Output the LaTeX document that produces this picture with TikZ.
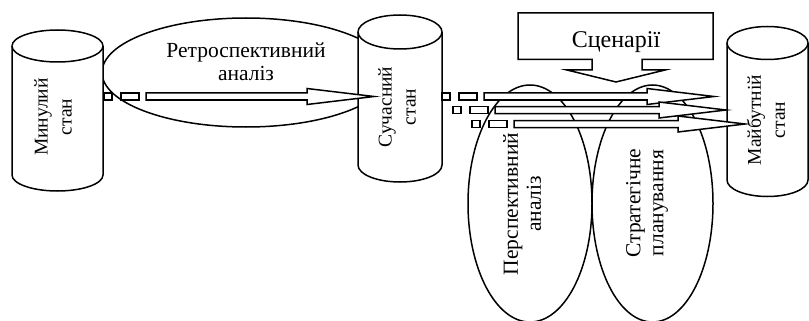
\documentclass[tikz,border=0pt]{standalone}
\usepackage{fontspec}
\setmainfont{Liberation Serif}
\usetikzlibrary{calc}

% cylinder: left x, right x, centre y of top ellipse, centre y of bottom ellipse, vertical radius
\newcommand\drawdrum[5]{%
  \pgfmathsetmacro\drumrx{(#2-#1)/2}%
  \draw[line] (#1,#3) -- (#1,#4)
    arc[start angle=180, end angle=0, x radius=\drumrx, y radius=#5]
    -- (#2,#3)
    arc[start angle=0, end angle=-180, x radius=\drumrx, y radius=#5] -- cycle;
  \draw[line] (#1,#3) arc[start angle=180, end angle=0, x radius=\drumrx, y radius=#5];}

% hollow block arrow with a broken tail: tail coordinate, tip coordinate
\newcommand\brokenarrow[2]{%
  \draw[line] ($(#1)+(0,-3.5)$) rectangle ($(#1)+(8,3.5)$);
  \draw[line] ($(#1)+(17,-3.5)$) rectangle ($(#1)+(35,3.5)$);
  \draw[line] ($(#1)+(42,-3.5)$) -- ($(#2)+(-67,-3.5)$) -- ($(#2)+(-67,-8)$)
    -- (#2) -- ($(#2)+(-67,8)$) -- ($(#2)+(-67,3.5)$) -- ($(#1)+(42,3.5)$) -- cycle;}

\tikzset{
  line/.style={draw=black, line width=1.5pt, fill=white, line join=miter},
  oval/.style={draw=black, line width=1.5pt},
  bigtext/.style={font=\fontsize{21.5}{23}\selectfont, align=center, inner sep=0pt},
  smalltext/.style={font=\fontsize{19.5}{24}\selectfont, align=center, inner sep=0pt, rotate=90},
}

\begin{document}
\begin{tikzpicture}[x=1pt, y=-1pt]
\useasboundingbox (0,0) rectangle (809,321);

% retrospective analysis oval (behind the drums)
\draw[oval] (246,72.5) ellipse[x radius=144, y radius=54.5];
\node[bigtext] (retro) at (246,62) {Ретроспективний\\аналіз};

% the three states
\drawdrum{12}{103}{46}{175}{16}
\node[smalltext] (past) at (53,117) {Минулий\\стан};

\drawdrum{358}{442}{32}{165}{17}
\node[smalltext] (present) at (397,107) {Сучасний\\стан};

\drawdrum{727}{808}{43}{180}{16.5}
\node[smalltext] (future) at (766,120) {Майбутній\\стан};

% prospective analysis and strategic planning ovals
\draw[oval] (530,203.5) ellipse[x radius=62, y radius=118.5];
\draw[oval] (652.5,203.5) ellipse[x radius=60.5, y radius=118.5];
\node[bigtext, rotate=90] (prosp) at (522,204) {Перспективний\\аналіз};
\node[bigtext, rotate=90] (plan) at (647,203) {Стратегічне\\планування};

% scenarios callout
\draw[line] (518,13) -- (713,13) -- (713,59.5) -- (642,59.5) -- (642,70) -- (665,70)
  -- (616,82) -- (567,70) -- (592,70) -- (592,59.5) -- (518,59.5) -- cycle;
\node[bigtext, font=\fontsize{24}{26}\selectfont, anchor=base] (scen) at (616,47.5) {Сценарії};

% transitions
\coordinate (t0) at (104,96.5);  \coordinate (h0) at (374,96.5);
\coordinate (t1) at (442,96.5);  \coordinate (h1) at (714,96.5);
\coordinate (t2) at (453,110);   \coordinate (h2) at (726,110);
\coordinate (t3) at (472,124);   \coordinate (h3) at (745,124);
\brokenarrow{t0}{h0}
\brokenarrow{t1}{h1}
\brokenarrow{t2}{h2}
\brokenarrow{t3}{h3}
\end{tikzpicture}
\end{document}
